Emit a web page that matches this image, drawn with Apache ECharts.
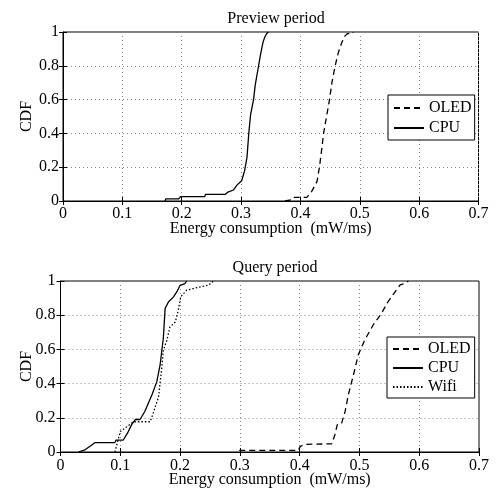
<!DOCTYPE html>
<html>
<head>
<meta charset="utf-8">
<script src="https://cdn.jsdelivr.net/npm/echarts@6/dist/echarts.min.js"></script>
<style>
html,body{margin:0;padding:0;background:#fff;}
#chart{width:497px;height:491px;}
</style>
</head>
<body>
<div id="chart"></div>
<script>
// ---- data ----
var xTicks = [0, 0.1, 0.2, 0.3, 0.4, 0.5, 0.6, 0.7];
var yTicks = [0, 0.2, 0.4, 0.6, 0.8, 1];
var titles = ['Preview period', 'Query period'];
var xName = 'Energy consumption  (mW/ms)';
var yName = 'CDF';

var previewOLED = [[0.374,0],[0.375,0.01],[0.388,0.01],[0.39,0.022],[0.411,0.022],[0.419,0.057],[0.428,0.116],[0.432,0.2],[0.436,0.31],[0.439,0.40],[0.4445,0.51],[0.449,0.60],[0.453,0.70],[0.4585,0.80],[0.464,0.88],[0.47,0.94],[0.475,0.977],[0.479,0.99],[0.487,0.99],[0.489,1]];
var previewCPU = [[0.172,0],[0.173,0.012],[0.195,0.012],[0.198,0.026],[0.239,0.026],[0.240,0.039],[0.273,0.039],[0.277,0.051],[0.287,0.065],[0.293,0.094],[0.301,0.12],[0.306,0.18],[0.310,0.26],[0.313,0.40],[0.316,0.51],[0.321,0.60],[0.324,0.69],[0.329,0.79],[0.333,0.87],[0.337,0.94],[0.340,0.97],[0.343,0.99],[0.346,1]];

var queryOLED = [[0.299,0.01],[0.398,0.01],[0.401,0.033],[0.41,0.045],[0.4537,0.048],[0.459,0.101],[0.463,0.16],[0.47,0.165],[0.476,0.237],[0.4815,0.335],[0.49,0.451],[0.498,0.568],[0.509,0.656],[0.523,0.743],[0.537,0.811],[0.548,0.88],[0.56,0.938],[0.568,0.977],[0.576,0.986],[0.582,1]];
var queryCPU = [[0.03,0],[0.032,0.006],[0.041,0.013],[0.05,0.035],[0.058,0.055],[0.091,0.055],[0.093,0.07],[0.105,0.07],[0.112,0.11],[0.119,0.16],[0.125,0.19],[0.133,0.19],[0.141,0.237],[0.153,0.335],[0.161,0.41],[0.1666,0.51],[0.172,0.665],[0.175,0.84],[0.1805,0.877],[0.189,0.907],[0.1945,0.936],[0.2,0.975],[0.203,0.985],[0.208,0.985],[0.211,1]];
var queryWifi = [[0.091,0],[0.1,0.12],[0.111,0.148],[0.122,0.177],[0.15,0.177],[0.155,0.226],[0.164,0.323],[0.169,0.479],[0.172,0.595],[0.178,0.654],[0.183,0.731],[0.192,0.76],[0.197,0.829],[0.201,0.907],[0.211,0.946],[0.228,0.961],[0.247,0.975],[0.256,1]];

// ---- chart ----
var FONT = '"Liberation Serif", "Times New Roman", serif';
var FS = 16;
var chart = echarts.init(document.getElementById('chart'), null, {renderer: 'canvas'});

function mainX(gi, labelMargin, nameGap) {
  return {
    type: 'value', gridIndex: gi, min: xTicks[0], max: xTicks[xTicks.length-1], interval: 0.1,
    position: 'bottom',
    name: xName, nameLocation: 'middle', nameGap: nameGap, nameMoveOverlap: false,
    nameTextStyle: {color: '#000', fontFamily: FONT, fontSize: FS, lineHeight: 16},
    axisLine: {show: true, onZero: false, lineStyle: {color: '#000', width: 1}},
    axisTick: {show: true, inside: true, length: 4, lineStyle: {color: '#000'}},
    axisLabel: {color: '#000', fontFamily: FONT, fontSize: FS, margin: labelMargin, lineHeight: 16},
    splitLine: {show: true, lineStyle: {color: '#888', type: [1, 3], width: 1}}
  };
}
function secX(gi) {
  return {
    type: 'value', gridIndex: gi, min: 0, max: 0.7, interval: 0.1, position: 'top',
    axisLine: {show: false}, axisLabel: {show: false}, splitLine: {show: false},
    axisTick: {show: true, inside: true, length: 4, lineStyle: {color: '#000'}}
  };
}
function mainY(gi, labelMargin, nameGap) {
  return {
    type: 'value', gridIndex: gi, min: yTicks[0], max: yTicks[yTicks.length-1], interval: 0.2,
    position: 'left',
    name: yName, nameLocation: 'middle', nameGap: nameGap, nameMoveOverlap: false,
    nameTextStyle: {color: '#000', fontFamily: FONT, fontSize: FS, lineHeight: 16},
    axisLine: {show: true, onZero: false, lineStyle: {color: '#000', width: 1}},
    axisTick: {show: true, inside: true, length: 4, lineStyle: {color: '#000'}},
    axisLabel: {color: '#000', fontFamily: FONT, fontSize: FS, margin: labelMargin},
    splitLine: {show: true, lineStyle: {color: '#888', type: [1, 3], width: 1}}
  };
}
function secY(gi) {
  return {
    type: 'value', gridIndex: gi, min: 0, max: 1, interval: 0.2, position: 'right',
    axisLine: {show: false}, axisLabel: {show: false}, splitLine: {show: false},
    axisTick: {show: true, inside: true, length: 4, lineStyle: {color: '#000'}}
  };
}
function line(name, data, xi, yi, type) {
  return {
    name: name, type: 'line', data: data, xAxisIndex: xi, yAxisIndex: yi,
    showSymbol: false, symbol: 'none', smooth: false, animation: false,
    lineStyle: {color: '#000', width: 1.3, type: type},
    itemStyle: {color: '#000'},
    emphasis: {disabled: true}
  };
}
var legendText = {color: '#000', fontFamily: FONT, fontSize: FS, lineHeight: 16};

var option = {
  backgroundColor: '#fff',
  animation: false,
  title: [
    {text: titles[0], left: 271, top: 6, textAlign: 'center',
     textStyle: {color: '#000', fontFamily: FONT, fontSize: FS, fontWeight: 'normal', lineHeight: 16}},
    {text: titles[1], left: 270, top: 255, textAlign: 'center',
     textStyle: {color: '#000', fontFamily: FONT, fontSize: FS, fontWeight: 'normal', lineHeight: 16}}
  ],
  grid: [
    {left: 63, top: 32, right: 18.5, height: 169, show: true, borderColor: '#000', borderWidth: 1, containLabel: false},
    {left: 60.5, top: 281, right: 18, height: 171, show: true, borderColor: '#000', borderWidth: 1, containLabel: false}
  ],
  xAxis: [mainX(0, 5, 20), secX(0), mainX(1, 5.5, 20), secX(1)],
  yAxis: [mainY(0, 4, 28), secY(0), mainY(1, 5, 25.5), secY(1)],
  legend: [
    {data: ['OLED', 'CPU'], orient: 'vertical', left: 388, top: 95, itemWidth: 30, itemHeight: 14, itemGap: 4,
     padding: [5, 3, 4, 5], borderColor: '#000', borderWidth: 1, backgroundColor: '#fff',
     itemStyle: {opacity: 0},
     selectedMode: false, textStyle: legendText},
    {data: ['OLED', 'CPU', 'Wifi'], orient: 'vertical', left: 387, top: 337, itemWidth: 30, itemHeight: 14, itemGap: 3,
     padding: [4, 4, 3, 5], borderColor: '#000', borderWidth: 1, backgroundColor: '#fff',
     itemStyle: {opacity: 0},
     selectedMode: false, textStyle: legendText}
  ],
  series: [
    line('OLED', previewOLED, 0, 0, [6, 4]),
    line('CPU', previewCPU, 0, 0, 'solid'),
    line('OLED', queryOLED, 2, 2, [6, 4]),
    line('CPU', queryCPU, 2, 2, 'solid'),
    line('Wifi', queryWifi, 2, 2, [1.5, 2])
  ]
};
chart.setOption(option);
</script>
</body>
</html>
